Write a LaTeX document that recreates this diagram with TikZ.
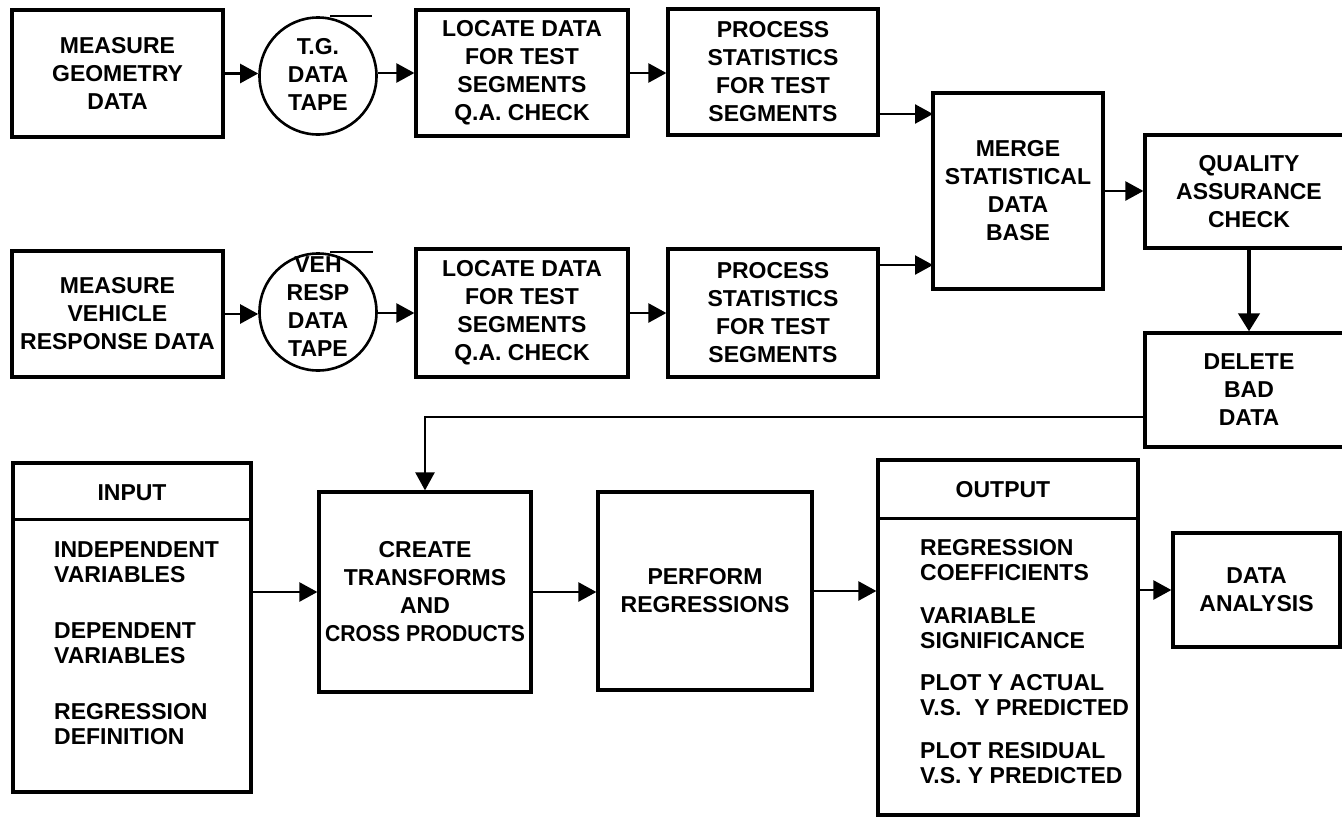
\documentclass[tikz,border=0pt]{standalone}
\usepackage{fontspec}
\usepackage{graphicx}
\setmainfont{Liberation Sans}
\usetikzlibrary{arrows.meta,calc}
\begin{document}
\begin{tikzpicture}[x=1pt,y=-1pt,
  box/.style={draw, line width=3.2pt, rectangle, inner sep=0pt, align=center,
    font={\fontsize{23}{28}\selectfont\bfseries}},
  tape/.style={draw, line width=2.6pt, circle, inner sep=0pt, minimum size=117pt},
  lbl/.style={inner sep=0pt, align=center, font={\fontsize{23}{28}\selectfont\bfseries}},
  lst/.style={inner sep=0pt, align=left, anchor=west, font={\fontsize{23}{25}\selectfont\bfseries}},
  arr/.style={line width=2.4pt, -{Triangle[length=18pt,width=19pt]}},
  thickarr/.style={line width=4pt, -{Triangle[length=18pt,width=21pt]}},
  rule/.style={line width=2.4pt},
  ]
\useasboundingbox (0,0) rectangle (1342,817);
\clip (0,0) rectangle (1342,817);

% ---- row 1
\node[box, minimum width=211pt, minimum height=127pt] (m1) at (117.5,73.5) {MEASURE\\GEOMETRY\\DATA};
\node[tape] (c1) at (318,76) {};
\node[lbl] (c1t) at (318,74) {T.G.\\DATA\\TAPE};
\draw[rule] ($(c1.north)+(12,0)$) -- ++(42,0);
\node[box, minimum width=212pt, minimum height=126pt] (l1) at (522,73) {LOCATE DATA\\FOR TEST\\SEGMENTS\\Q.A. CHECK};
\node[box, minimum width=210pt, minimum height=126pt] (p1) at (773,72) {PROCESS\\STATISTICS\\FOR TEST\\SEGMENTS};

% ---- row 2
\node[box, minimum width=211pt, minimum height=126pt] (m2) at (117.5,314) {MEASURE\\VEHICLE\\RESPONSE DATA};
\node[tape] (c2) at (318,312) {};
\node[lbl] (c2t) at (318,307) {VEH\\RESP\\DATA\\TAPE};
\draw[rule] ($(c2.north)+(12,0)$) -- ++(43,0);
\node[box, minimum width=212pt, minimum height=128pt] (l2) at (522,313) {LOCATE DATA\\FOR TEST\\SEGMENTS\\Q.A. CHECK};
\node[box, minimum width=210pt, minimum height=128pt] (p2) at (773,313) {PROCESS\\STATISTICS\\FOR TEST\\SEGMENTS};

% ---- merge / QA / delete
\node[box, minimum width=170pt, minimum height=196pt] (mg) at (1018,191) {MERGE\\STATISTICAL\\DATA\\BASE};
\node[box, minimum width=208pt, minimum height=113pt] (qa) at (1249,191.5) {QUALITY\\ASSURANCE\\CHECK};
\node[box, minimum width=208pt, minimum height=114pt] (dl) at (1249,390) {DELETE\\BAD\\DATA};

% ---- bottom row
\node[box, minimum width=238pt, minimum height=329pt] (in) at (132,627.5) {};
\draw[rule] ($(in.north west)+(0,58)$) -- ($(in.north east)+(0,58)$);
\node[lbl] (int) at (132,493) {INPUT};
\node[lst] (i1) at (54,562) {INDEPENDENT\\VARIABLES};
\node[lst] (i2) at (54,643.5) {DEPENDENT\\VARIABLES};
\node[lst] (i3) at (54,724) {REGRESSION\\DEFINITION};

\node[box, minimum width=212pt, minimum height=200pt] (cr) at (425,592) {CREATE\\TRANSFORMS\\AND\\\scalebox{0.92}[1]{CROSS PRODUCTS}};
\node[box, minimum width=214pt, minimum height=198pt] (pf) at (705,591) {PERFORM\\REGRESSIONS};

\node[box, minimum width=260pt, minimum height=355pt] (out) at (1008,637.5) {};
\draw[rule] ($(out.north west)+(0,60)$) -- ($(out.north east)+(0,60)$);
\node[lbl] (ot) at (1003,490) {OUTPUT};
\node[lst] (o1) at (920,560) {REGRESSION\\COEFFICIENTS};
\node[lst] (o2) at (920,628) {VARIABLE\\SIGNIFICANCE};
\node[lst] (o3) at (920,695) {PLOT Y ACTUAL\\V.S.\ \ Y PREDICTED};
\node[lst] (o4) at (920,763) {PLOT RESIDUAL\\V.S. Y PREDICTED};

\node[box, minimum width=167pt, minimum height=114pt] (da) at (1256.5,590) {DATA\\ANALYSIS};

% ---- connectors
\draw[arr] (m1.east) -- (m1.east -| c1.west);
\draw[arr] (l1.west -| c1.east) -- (l1.west);
\draw[arr] (l1.east) -- (l1.east -| p1.west);
\draw[arr] (m2.east) -- (m2.east -| c2.west);
\draw[arr] (l2.west -| c2.east) -- (l2.west);
\draw[arr] (l2.east) -- (l2.east -| p2.west);
\coordinate (mgin1) at (933,114);
\coordinate (mgin2) at (933,265);
\draw[arr] (p1.east |- mgin1) -- (mgin1);
\draw[arr] (p2.east |- mgin2) -- (mgin2);
\draw[arr] (mg.east) -- (mg.east -| qa.west);
\draw[thickarr] (qa.south) -- (dl.north);
\coordinate (dlout) at (1145,417);
\draw[arr] (dl.west |- dlout) -| (cr.north);
\draw[arr] (cr.west -| in.east) -- (cr.west);
\draw[arr] (cr.east) -- (cr.east -| pf.west);
\draw[arr] (pf.east) -- (pf.east -| out.west);
\draw[arr] (da.west -| out.east) -- (da.west);
\end{tikzpicture}
\end{document}
